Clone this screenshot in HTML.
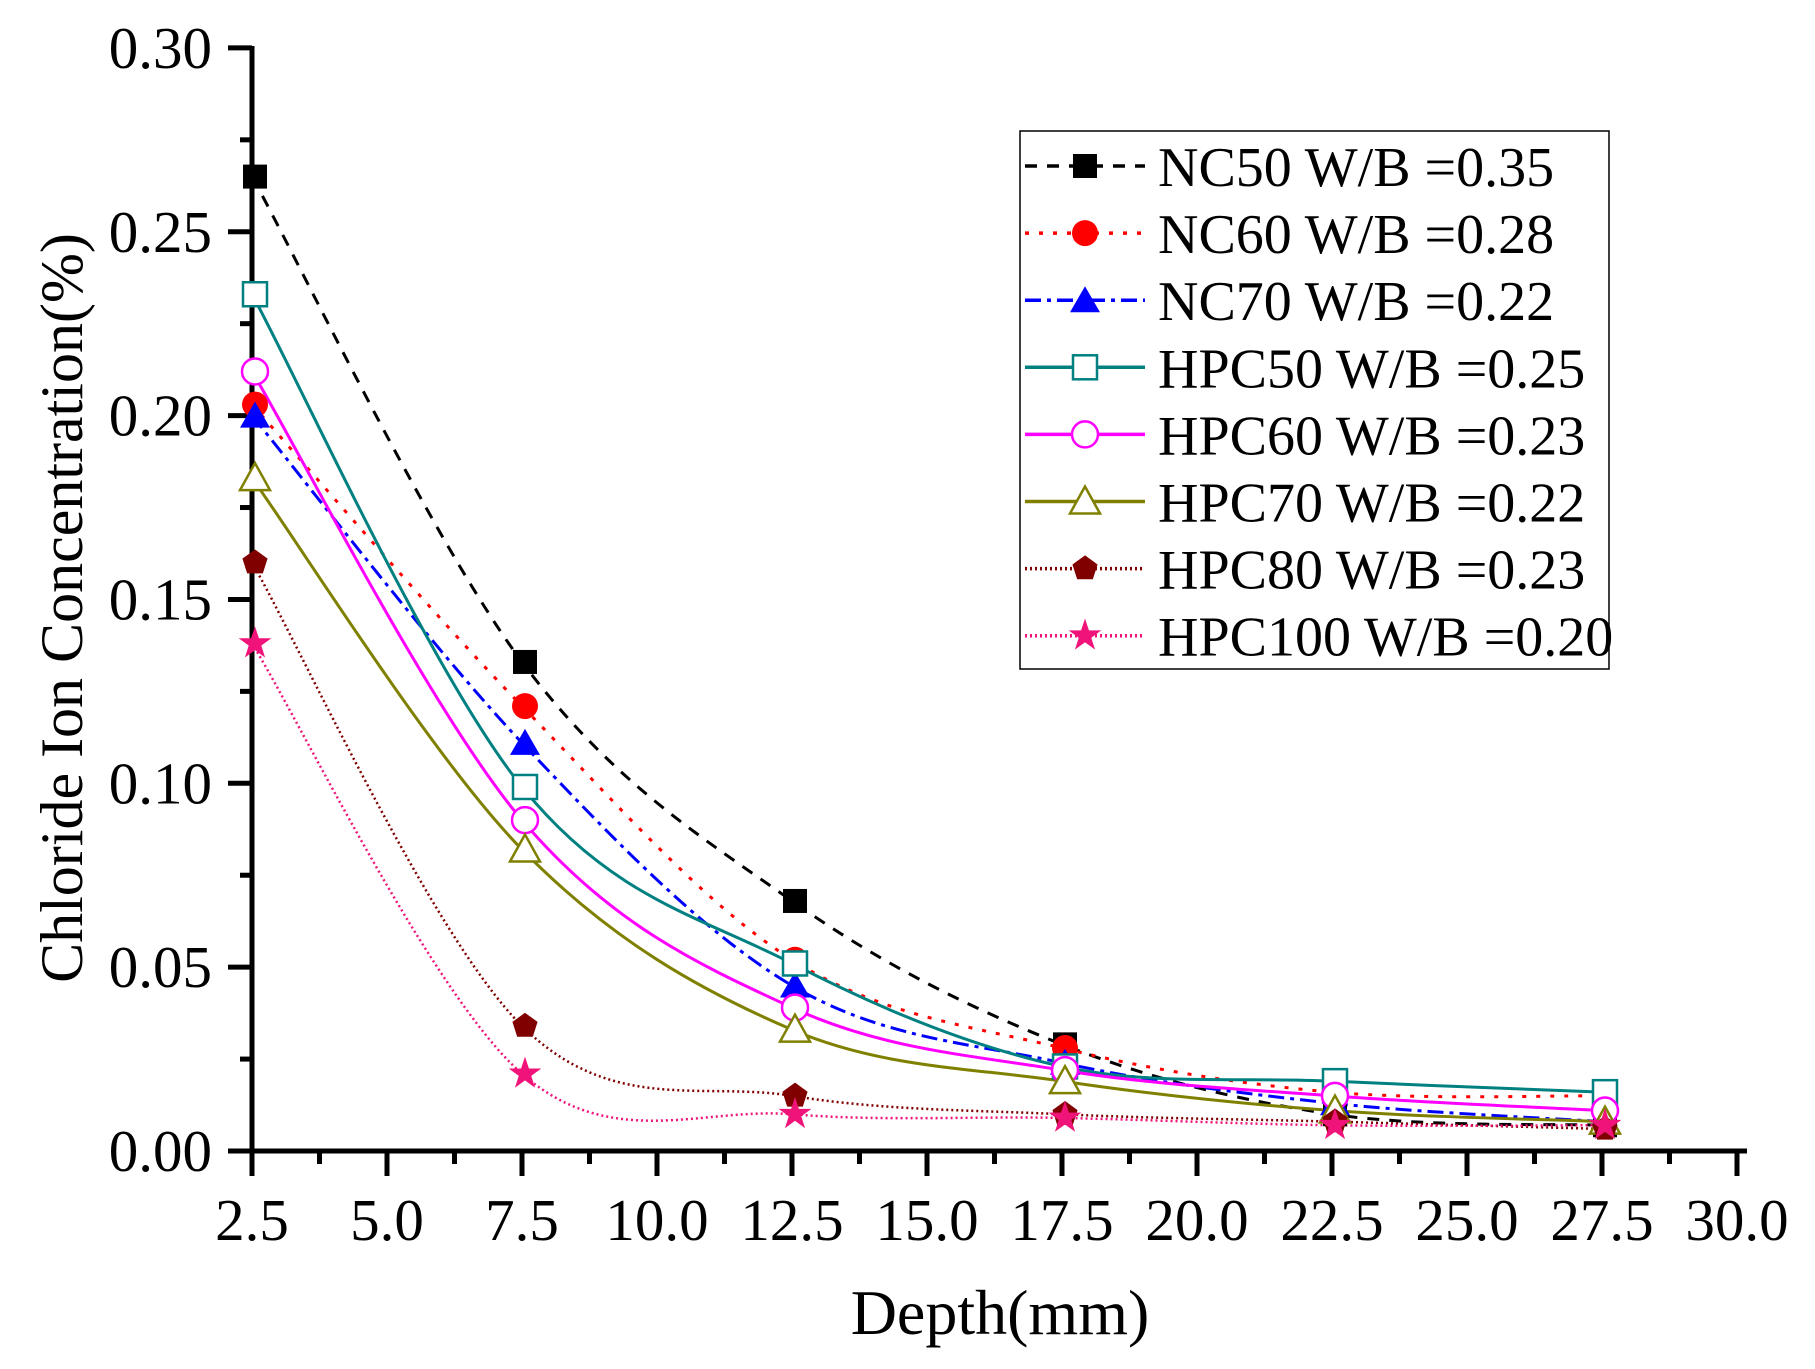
<!DOCTYPE html>
<html><head><meta charset="utf-8"><style>
body{margin:0;background:#fff}
svg{display:block}
text{font-family:"Liberation Serif",serif;fill:#000}
</style></head><body>
<svg id="s" width="1815" height="1369" xmlns="http://www.w3.org/2000/svg"></svg>
<script>
const S=document.getElementById('s');
const X=d=>252+(d-2.5)*54.0, Y=v=>1151-v*3677;
let h='';
h+=`<line x1="252" y1="46" x2="252" y2="1153" stroke="#000" stroke-width="5"/>`;
h+=`<line x1="228" y1="1151" x2="1747" y2="1151" stroke="#000" stroke-width="5"/>`;
for(let i=0;i<=6;i++){let y=Y(i*0.05);h+=`<line x1="228" y1="${y}" x2="252" y2="${y}" stroke="#000" stroke-width="5"/>`;
 h+=`<text x="212" y="${y+20}" font-size="59" text-anchor="end">${(i*0.05).toFixed(2)}</text>`;
 if(i<6){let y2=Y(i*0.05+0.025);h+=`<line x1="240" y1="${y2}" x2="252" y2="${y2}" stroke="#000" stroke-width="5"/>`;}}
for(let i=0;i<=11;i++){let d=2.5+i*2.5,x=X(d);h+=`<line x1="${x}" y1="1151" x2="${x}" y2="1176" stroke="#000" stroke-width="5"/>`;
 h+=`<text x="${x}" y="1240" font-size="59" text-anchor="middle">${d.toFixed(1)}</text>`;
 if(i<11){let x2=X(d+1.25);h+=`<line x1="${x2}" y1="1151" x2="${x2}" y2="1164" stroke="#000" stroke-width="5"/>`;}}
h+=`<text x="1000" y="1334" font-size="64" text-anchor="middle">Depth(mm)</text>`;
h+=`<text transform="translate(82,608) rotate(-90)" font-size="60" text-anchor="middle">Chloride Ion Concentration(%)</text>`;
const D=[2.5,7.5,12.5,17.5,22.5,27.5];
const ser=[
['NC50 W/B =0.35','#000','12,10','sq',[0.265,0.133,0.068,0.029,0.010,0.007]],
['NC60 W/B =0.28','#f00','4,10','ci',[0.203,0.121,0.052,0.028,0.016,0.015]],
['NC70 W/B =0.22','#00f','16,6,4,6','tr',[0.200,0.111,0.045,0.024,0.013,0.008]],
['HPC50 W/B =0.25','#008080','','osq',[0.233,0.099,0.051,0.023,0.019,0.016]],
['HPC60 W/B =0.23','#f0f','','oci',[0.212,0.090,0.039,0.022,0.015,0.011]],
['HPC70 W/B =0.22','#808000','','otr',[0.183,0.082,0.033,0.019,0.011,0.008]],
['HPC80 W/B =0.23','#800000','2,3','pe',[0.160,0.034,0.015,0.010,0.008,0.006]],
['HPC100 W/B =0.20','#f0147a','2,3','st',[0.138,0.021,0.010,0.009,0.007,0.007]]];
function mk(t,x,y,c){const r=12;
 if(t=='sq')return `<rect x="${x-r}" y="${y-r}" width="${2*r}" height="${2*r}" fill="#000"/>`;
 if(t=='ci')return `<circle cx="${x}" cy="${y}" r="${r+1}" fill="#f00"/>`;
 if(t=='tr')return `<polygon points="${x},${y-r-2} ${x+r+3},${y+r} ${x-r-3},${y+r}" fill="#00f"/>`;
 if(t=='osq')return `<rect x="${x-r}" y="${y-r}" width="${2*r}" height="${2*r}" fill="#fff" stroke="${c}" stroke-width="2.5"/>`;
 if(t=='oci')return `<circle cx="${x}" cy="${y}" r="${r+1}" fill="#fff" stroke="${c}" stroke-width="2.5"/>`;
 if(t=='otr')return `<polygon points="${x},${y-r-3} ${x+r+3},${y+r} ${x-r-3},${y+r}" fill="#fff" stroke="${c}" stroke-width="2.5"/>`;
 if(t=='pe'){let p=[];for(let k=0;k<5;k++){let a=-Math.PI/2+k*2*Math.PI/5;p.push((x+r*Math.cos(a)).toFixed(1)+','+(y+r*Math.sin(a)).toFixed(1));}
  return `<polygon points="${p.join(' ')}" fill="#800000" stroke="${c}" stroke-width="2"/>`;}
 if(t=='st'){let p=[];for(let k=0;k<10;k++){let a=-Math.PI/2+k*Math.PI/5,rr=k%2?r*0.45:r+2;p.push((x+rr*Math.cos(a)).toFixed(1)+','+(y+rr*Math.sin(a)).toFixed(1));}
  return `<polygon points="${p.join(' ')}" fill="#f0147a" stroke="${c}" stroke-width="2"/>`;}
}
function path(pts){let s=`M${pts[0][0]},${pts[0][1]}`;
 for(let i=0;i<pts.length-1;i++){let p0=pts[Math.max(0,i-1)],p1=pts[i],p2=pts[i+1],p3=pts[Math.min(pts.length-1,i+2)];
  s+=` C${p1[0]+(p2[0]-p0[0])/6},${p1[1]+(p2[1]-p0[1])/6} ${p2[0]-(p3[0]-p1[0])/6},${p2[1]-(p3[1]-p1[1])/6} ${p2[0]},${p2[1]}`;}
 return s;}
let lines='',marks='';
ser.forEach(([n,c,da,t,v])=>{const pts=D.map((d,i)=>[X(d),Y(v[i])]);
 lines+=`<path d="${path(pts)}" fill="none" stroke="${c}" stroke-width="${da=='2,3'?2.5:3}" ${da?`stroke-dasharray="${da}"`:''}/>`;
 pts.forEach(p=>marks+=mk(t,p[0]+3,p[1],c));});
h+=lines+marks;
h+=`<rect x="1020" y="131" width="589" height="538" fill="#fff" stroke="#000" stroke-width="1.5"/>`;
ser.forEach(([n,c,da,t],i)=>{let y=166+i*67.1;
 h+=`<line x1="1025" y1="${y}" x2="1145" y2="${y}" stroke="${c}" stroke-width="3.5" ${da?`stroke-dasharray="${da}"`:''}/>`;
 h+=mk(t,1085,y,c);
 h+=`<text x="1158" y="${y+20}" font-size="56">${n}</text>`;});
S.innerHTML=h;
</script>
</body></html>
